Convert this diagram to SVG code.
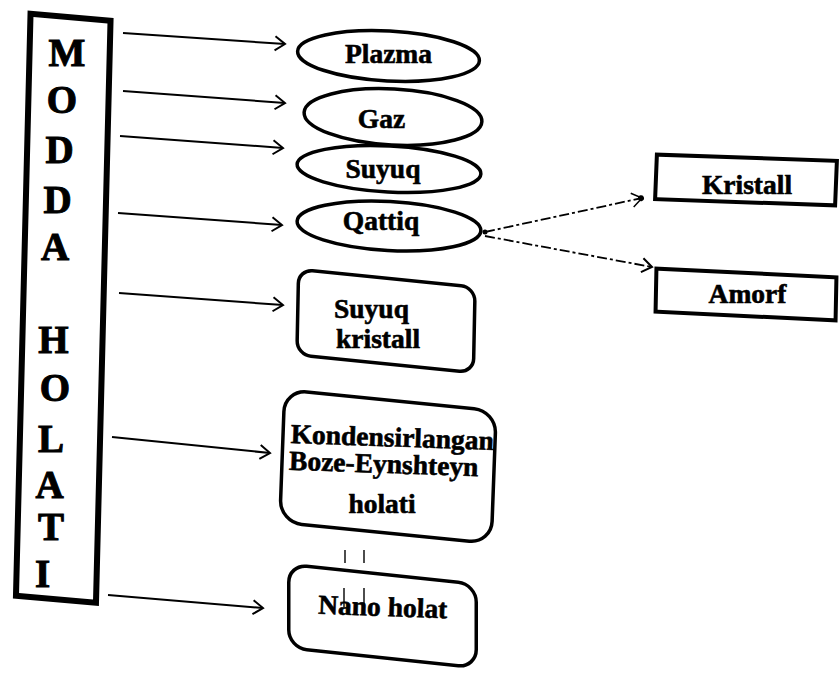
<svg xmlns="http://www.w3.org/2000/svg" width="839" height="677" viewBox="0 0 839 677">
<style>
  .bg { fill: #ffffff; }
  .shape { fill: none; stroke: #000; }
  .t { font-family: "Liberation Serif", "Times New Roman", serif; font-weight: bold; fill: #000; stroke: #000; stroke-width: 0.6; }
  .big { font-size: 39px; text-anchor: middle; stroke-width: 1; }
  .lbl { font-size: 27.5px; }
  .mid { text-anchor: middle; }
  .arr { fill: none; stroke: #000; stroke-width: 2; marker-end: url(#chev); }
  .dash { fill: none; stroke: #000; stroke-width: 1.8; stroke-dasharray: 10 3 3 3; }
  .art { stroke: #000; stroke-width: 1.4; }
</style>
<defs>
  <marker id="chev" markerUnits="userSpaceOnUse" viewBox="-1 -1 13 16" markerWidth="13" markerHeight="16" refX="10" refY="7" orient="auto" overflow="visible">
    <path d="M0,0 L10,7 L0,14" fill="none" stroke="#000" stroke-width="2"/>
  </marker>
  <marker id="chevdot" markerUnits="userSpaceOnUse" viewBox="-1 -1 13 16" markerWidth="13" markerHeight="16" refX="10" refY="7" orient="auto" overflow="visible">
    <path d="M0,0 L10,7 L0,14" fill="none" stroke="#000" stroke-width="1.5"/>
    <circle cx="9" cy="7" r="3" fill="#000"/>
  </marker>
  <marker id="dot" markerUnits="userSpaceOnUse" viewBox="-4 -4 8 8" markerWidth="8" markerHeight="8" refX="0" refY="0" overflow="visible">
    <circle cx="0" cy="0" r="2.5" fill="#000"/>
  </marker>
</defs>
<rect class="bg" x="0" y="0" width="839" height="677"/>

<g id="connectors">
  <line class="arr" x1="123" y1="33" x2="285" y2="44"/>
  <line class="arr" x1="123" y1="91" x2="285" y2="103"/>
  <line class="arr" x1="120" y1="136" x2="283" y2="148"/>
  <line class="arr" x1="118" y1="213" x2="282" y2="225"/>
  <line class="arr" x1="119" y1="293" x2="283" y2="305"/>
  <line class="arr" x1="112" y1="437" x2="270" y2="453"/>
  <line class="arr" x1="108" y1="595" x2="263" y2="608"/>
  <line class="dash" x1="485" y1="232" x2="642" y2="198" marker-start="url(#dot)" marker-end="url(#chevdot)"/>
  <line class="dash" x1="485" y1="236" x2="652" y2="267" marker-end="url(#chev)"/>
</g>

<g id="modda-holati">
  <rect class="shape" stroke-width="6" transform="translate(63.25 308.25) matrix(1 0.09 -0.025 1 0 0)" x="-40" y="-291" width="80" height="582"/>
  <text class="t big" x="67" y="66">M</text>
  <text class="t big" x="62" y="113">O</text>
  <text class="t big" x="59.5" y="163">D</text>
  <text class="t big" x="57.5" y="213">D</text>
  <text class="t big" x="55" y="260">A</text>
  <text class="t big" x="53.5" y="353">H</text>
  <text class="t big" x="55" y="401">O</text>
  <text class="t big" x="51" y="452">L</text>
  <text class="t big" x="49.5" y="498">A</text>
  <text class="t big" x="51" y="540">T</text>
  <text class="t big" x="42.5" y="587">I</text>
</g>

<g id="plazma">
  <ellipse class="shape" stroke-width="3.5" transform="translate(388.5 56) rotate(3)" cx="0" cy="0" rx="91" ry="25"/>
  <text class="t lbl mid" x="388.5" y="63">Plazma</text>
</g>
<g id="gaz">
  <ellipse class="shape" stroke-width="3.5" transform="translate(393 117) rotate(3)" cx="0" cy="0" rx="89" ry="28"/>
  <text class="t lbl mid" x="381.5" y="128">Gaz</text>
</g>
<g id="suyuq">
  <ellipse class="shape" stroke-width="3.5" transform="translate(389 169) rotate(3)" cx="0" cy="0" rx="92" ry="23"/>
  <text class="t lbl mid" x="383" y="178">Suyuq</text>
</g>
<g id="qattiq">
  <ellipse class="shape" stroke-width="3.5" transform="translate(389 226) rotate(3)" cx="0" cy="0" rx="92" ry="24.5"/>
  <text class="t lbl mid" x="381" y="230">Qattiq</text>
</g>

<g id="suyuq-kristall">
  <rect class="shape" stroke-width="3.5" transform="translate(386 321) matrix(1 0.1 -0.02 1 0 0)" x="-88.25" y="-42.75" width="176.5" height="85.5" rx="14"/>
  <text class="t lbl" x="334" y="318">Suyuq</text>
  <text class="t lbl" x="336" y="348">kristall</text>
</g>

<g id="boze-eynshteyn">
  <rect class="shape" stroke-width="3.5" transform="translate(388 466.5) matrix(1 0.1 -0.037 1 0 0)" x="-105.75" y="-66.25" width="211.5" height="132.5" rx="22"/>
  <text class="t lbl mid" x="392" y="446.5" transform="rotate(2 392 446.5)">Kondensirlangan</text>
  <text class="t lbl mid" x="383.5" y="473" transform="rotate(2 383.5 473)">Boze-Eynshteyn</text>
  <text class="t lbl mid" x="382" y="513">holati</text>
</g>

<g id="nano-holat">
  <rect class="shape" stroke-width="3.5" transform="translate(382.5 616) matrix(1 0.105 0 1 0 0)" x="-93.75" y="-41.75" width="187.5" height="83.5" rx="18"/>
  <text class="t lbl mid" x="382.5" y="616" transform="rotate(2 382.5 616)">Nano holat</text>
  <line class="art" x1="345" y1="550" x2="345" y2="563"/>
  <line class="art" x1="364" y1="550" x2="364" y2="563"/>
  <line class="art" x1="344" y1="588" x2="344" y2="607"/>
  <line class="art" x1="364" y1="588" x2="364" y2="607"/>
</g>

<g id="kristall">
  <rect class="shape" stroke-width="4" transform="translate(746 180) matrix(1 0.035 -0.04 1 0 0)" x="-90" y="-22.25" width="180" height="44.5"/>
  <text class="t lbl mid" x="747" y="194">Kristall</text>
</g>

<g id="amorf">
  <rect class="shape" stroke-width="4" transform="translate(746 294.5) matrix(1 0.049 -0.02 1 0 0)" x="-90" y="-21.5" width="180" height="43"/>
  <text class="t lbl mid" x="747.5" y="303">Amorf</text>
</g>
</svg>
